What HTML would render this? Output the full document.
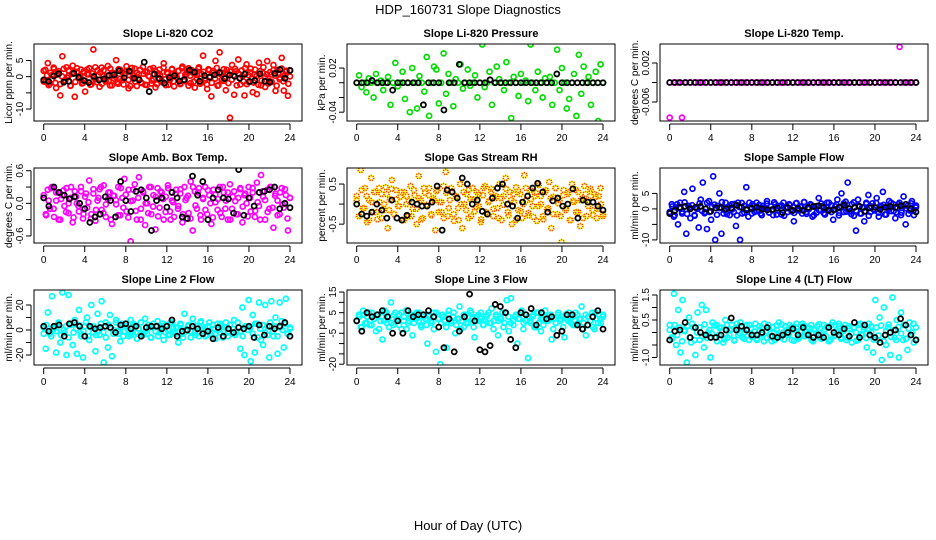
<!DOCTYPE html>
<html><head><meta charset="utf-8">
<style>
html,body{margin:0;padding:0;background:#fff;}
svg{display:block;font-family:"Liberation Sans",sans-serif;}
</style></head>
<body>
<svg id="chart" width="936" height="540" viewBox="0 0 936 540" xmlns="http://www.w3.org/2000/svg">
<rect width="936" height="540" fill="#fff"/>
<text x="468" y="14" text-anchor="middle" font-size="13">HDP_160731  Slope Diagnostics</text>
<text x="468" y="530" text-anchor="middle" font-size="13">Hour of Day (UTC)</text>
<g id="panels"></g>
</svg>
<script>
const xTicks = [0,4,8,12,16,20,24];
const titles = ["Slope Li-820 CO2","Slope Li-820 Pressure","Slope Li-820 Temp.","Slope Amb. Box Temp.","Slope Gas Stream RH","Slope Sample Flow","Slope Line 2 Flow","Slope Line 3 Flow","Slope Line 4 (LT) Flow"];
const yLabels = ["Licor ppm per min.","kPa per min.","degrees C per min.","degrees C per min.","percent per min.","ml/min per min.","ml/min per min.","ml/min per min.","ml/min per min."];
const yLims = [[-13.7,10.1],[-0.052,0.0527],[-0.0099,0.0059],[-0.73,0.65],[-0.97,0.9],[-11,13.2],[-28,32],[-20.4,16],[-1.3,1.7]];
const yTickVals = [[-10,-5,0,5],[-0.04,-0.02,0,0.02],[-0.006,-0.002,0.002],[-0.6,-0.3,0,0.3,0.6],[-0.5,0,0.5],[-10,-5,0,5],[-20,-10,0,10,20],[-20,-15,-10,-5,0,5,10,15],[-1,-0.5,0,0.5,1,1.5]];
const yTickLabels = [["-10","","0","5"],["-0.04","","","0.02"],["-0.006","","0.002"],["-0.6","","0.0","","0.6"],["-0.5","","0.5"],["-10","","0","5"],["-20","","0","","20"],["-20","","","-5","","5","","15"],["-1.0","","","0.5","","1.5"]];
const colors = ["#ff0000","#00dd00","#ff00ff","#ff00ff","rh","#0000ff","#00ffff","#00ffff","#00ffff"];

const s1 = [1.8,-1.6,4.2,-2.2,0.5,2.4,-3.5,1.1,-5.8,6.3,-1.2,2.9,0.3,-2.8,3.4,-6.2,1.5,-0.4,2.2,-1.9,-4.6,0.8,2.6,-2.4,8.4,-0.8,1.9,-3.1,2.8,0.2,-1.5,3.3,-2.7,1.2,-0.6,5.1,-2.2,2.1,-1.1,0.9,3.2,-3.6,1.6,-0.3,2.5,-2.9,0.7,-1.8,3.0,-2.5,1.4,0.1,-2.1,2.7,-3.3,0.6,2.2,-1.2,4.1,-2.6,1.0,-0.9,2.4,-3.0,0.4,1.8,-2.3,3.1,-1.4,0.8,2.6,-2.0,1.3,-3.4,0.5,2.9,-1.7,6.5,-0.5,-3.8,2.0,-6.1,1.2,4.9,-2.8,7.5,-1.0,2.3,-4.2,0.9,-12.7,3.6,-5.6,1.7,5.3,-2.4,0.2,-5.8,3.8,-1.6,2.5,-4.8,0.6,-5.4,4.3,-2.7,1.1,-3.2,4.8,-1.3,0.7,3.6,-4.4,2.1,-0.8,5.8,-4.3,1.5,-5.9,2.0];
const c1 = [-1.5,2.1,0.4,-2.6,1.2,-0.8,2.8,-1.9,0.6,1.7,-2.3,0.1,2.4,-1.1,-0.3,1.9,-2.8,0.9,1.4,-1.6,2.6,-0.5,0.2,-2.1,1.6,-1.3,2.2,0.7,-2.5,1.0,-0.2,2.9,-1.7,0.5,1.3,-2.2,2.0,-0.9,0.3,-1.4,2.5,-2.7,1.1,0.0,-1.8,2.3,-0.6,1.5,-2.4,0.8,1.8,-1.0,-2.9,2.7,0.4,-1.5,1.2,-0.4,2.1,-2.0,0.9,1.6,-2.6,0.2,2.4,-1.2,-0.7,1.9,-2.3,1.0,0.5,-1.7,2.8,-0.8,1.3,-2.5,0.1,2.2,-1.4,0.7,-0.3,1.7,-2.1,2.6,-1.0,0.6,1.4,-2.8,0.3,2.0,-1.6,1.1,-0.5,2.5,-2.2,0.8,1.5,-1.1,-2.4,2.3,0.0,-1.9,1.8,-0.6,2.7,-2.6,0.9,1.2,-1.3,-0.2,2.1,-2.0,1.6,-0.9,0.4,2.4,-2.7,1.0,-0.4,1.9,-1.5,2.6,-2.3,0.5,1.3,-0.7,-1.8,2.2,0.2,-2.5,1.7,-1.2,2.9,-0.1,0.7,-2.1,1.4,-1.6,2.0,0.3,-2.8,1.1,-0.3,2.5,-1.4,0.6,1.8,-2.2,0.1];
const b1 = [-1.0,-1.5,0.2,0.9,-1.7,-1.4,1.0,-0.2,-1.2,-1.8,0.1,-1.0,-0.7,0.4,0.6,1.8,-0.3,1.7,-0.5,-1.0,4.5,-4.6,0.8,-0.6,-2.0,-0.3,0.3,-1.4,-0.9,2.0,1.4,-1.4,0.3,-0.2,0.6,1.3,-0.6,0.5,0.1,-0.5,0.8,-1.5,-1.2,0.9,-1.4,-1.7,1.0,2.2,-0.5,1.9];
const s2 = [0,0.01,-0.006,0,-0.013,0.006,0,-0.02,0.012,0,0.003,-0.01,0,0.008,-0.03,0,0.027,-0.005,0,0.015,-0.022,0,-0.04,0.02,0,-0.035,0.009,0,-0.012,0.035,-0.045,0,0.022,0.018,-0.028,0,0.04,-0.015,0.012,0,-0.032,0.005,0,0.025,-0.008,0,0.018,-0.004,0,0.01,-0.02,0,0.052,-0.006,0,0.015,-0.03,0,0.022,0.005,0,-0.01,0.028,0,-0.048,0.008,0,-0.018,0.012,0,0.003,-0.025,0.052,0,-0.01,0.015,0,-0.02,0.006,0,0.008,-0.03,0,0.045,-0.01,0.02,0,-0.035,-0.022,0,0.012,-0.045,0.038,-0.015,0.022,0,0.008,-0.03,0,0.015,-0.052,0.025,0];
const c2 = [];
const b2 = [0,0,0,0.003,0,0,0,-0.01,0,0,0,0,0,-0.03,0,0,0,-0.037,0,0,0.025,0,0,0,0,0,0.004,0,0,0,0,0,0,0,0,0,0,0,0,0.012,0,0,0,0,0,0,0,0,0];
const s3 = [-0.0092,-0.002,-0.002,-0.0092,-0.002,-0.002,-0.002,-0.002,-0.002,-0.002,-0.002,-0.002,-0.002,-0.002,-0.002,-0.002,-0.002,-0.002,-0.002,-0.002,-0.002,-0.002,-0.002,-0.002,-0.002,-0.002,-0.002,-0.002,-0.002,-0.002,-0.002,-0.002,-0.002,-0.002,-0.002,-0.002,-0.002,-0.002,-0.002,-0.002,-0.002,-0.002,-0.002,-0.002,-0.002,-0.002,-0.002,-0.002,-0.002,-0.002,-0.002,-0.002,-0.002,-0.002,-0.002,-0.002,0.0053,-0.002,-0.002,-0.002,-0.002];
const c3 = [];
const b3 = [-0.002,-0.002,-0.002,-0.002,-0.002,-0.002,-0.002,-0.002,-0.002,-0.002,-0.002,-0.002,-0.002,-0.002,-0.002,-0.002,-0.002,-0.002,-0.002,-0.002,-0.002,-0.002,-0.002,-0.002,-0.002,-0.002,-0.002,-0.002,-0.002,-0.002,-0.002,-0.002,-0.002,-0.002,-0.002,-0.002,-0.002,-0.002,-0.002,-0.002,-0.002,-0.002,-0.002,-0.002,-0.002,-0.002,-0.002,-0.002,-0.002];
const s4 = [0.1,-0.2,0.25,-0.1,0.3,-0.25,0.05,0.2,-0.3,0.15,-0.05,0.28,-0.18,0.1,-0.35,0.22,0.0,-0.15,0.3,-0.28,0.12,-0.08,0.42,-0.2,0.18,-0.32,0.05,0.26,-0.12,0.33,-0.25,0.08,0.2,-0.38,0.14,-0.02,0.3,-0.22,0.1,0.45,-0.15,0.25,-0.7,0.05,0.35,-0.3,0.48,-0.1,0.22,-0.4,0.0,0.3,-0.2,0.15,-0.48,0.28,-0.08,0.2,-0.3,0.12,0.33,-0.15,0.05,-0.25,0.25,-0.05,0.18,-0.35,0.3,0.1,-0.18,0.4,-0.5,0.22,-0.1,0.28,-0.3,0.08,0.3,-0.2,0.15,-0.38,0.25,0.02,-0.12,0.3,-0.25,0.2,0.05,-0.3,0.35,-0.1,0.22,-0.2,0.1,0.28,-0.35,0.15,0.0,0.3,-0.15,0.2,-0.25,0.38,-0.05,0.52,0.12,-0.3,0.25,-0.1,0.3,-0.45,0.18,0.05,-0.2,0.28,-0.08,0.15,-0.5,0.1];
const c4 = [0.15,-0.22,0.05,0.28,-0.1,0.2,-0.3,0.08,0.24,-0.16,0.0,0.3,-0.26,0.12,-0.05,0.22,-0.2,0.18,0.02,-0.28,0.26,-0.12,0.1,0.3,-0.18,-0.02,0.2,-0.3,0.14,0.06,-0.22,0.28,-0.08,0.16,-0.26,0.04,0.25,-0.14,0.1,-0.3,0.2,0.0,-0.18,0.3,-0.06,0.12,-0.24,0.22,0.08,-0.16,0.28,-0.3,0.02,0.18,-0.1,0.26,-0.2,0.06,0.14,-0.28,0.3,-0.04,0.2,-0.22,0.1,-0.12,0.24,0.0,-0.26,0.16,0.08,-0.18,0.3,-0.1,0.2,-0.3,0.12,0.04,-0.2,0.26,-0.06,0.18,-0.24,0.1,0.28,-0.14,0.02,-0.3,0.22,0.06,-0.16,0.3,-0.08,0.14,-0.22,0.2,-0.02,0.26,-0.28,0.1];
const b4 = [0.1,-0.05,0.3,0.2,0.15,0.08,0.12,0.0,-0.1,-0.35,-0.25,-0.2,0.12,0.05,-0.25,0.4,0.05,-0.15,0.22,0.25,0.1,-0.5,0.05,0.1,-0.07,0.2,0.1,-0.25,-0.28,0.5,0.15,0.4,-0.3,0.1,0.25,0.1,0.08,-0.18,0.62,-0.22,0.1,-0.05,0.2,0.22,0.25,0.3,-0.1,0.0,-0.08];
const s5 = [0.2,-0.3,0.85,-0.1,0.4,-0.45,0.1,0.65,-0.2,0.3,-0.38,0.05,0.25,-0.15,0.42,-0.6,0.12,0.6,-0.25,0.35,-0.05,0.18,-0.4,0.3,0.0,-0.3,0.45,-0.12,0.22,-0.5,0.7,0.1,-0.35,0.28,-0.05,0.4,-0.25,0.15,-0.65,0.35,0.05,-0.2,0.45,0.8,-0.3,0.1,0.32,-0.42,0.2,-0.1,0.5,-0.6,0.0,0.25,-0.35,0.12,0.4,-0.18,0.3,-0.05,-0.45,0.22,0.45,-0.25,0.08,0.38,-0.3,0.15,-0.1,0.5,-0.4,0.2,0.65,-0.2,0.3,-0.5,0.05,0.42,-0.15,0.25,-0.35,0.72,0.1,-0.28,0.35,-0.05,0.2,-0.42,0.48,0.0,-0.3,0.3,-0.12,0.55,-0.6,0.18,0.4,-0.25,0.1,-0.95,0.35,-0.1,0.25,-0.4,0.5,0.05,-0.2,0.3,-0.55,0.15,0.45,-0.3,0.1,0.38,-0.15,0.25,-0.35,0.2,0.0,-0.25];
const c5 = [0.1,-0.3,0.35,-0.1,0.2,-0.4,0.05,0.3,-0.2,0.4,-0.35,0.0,0.25,-0.15,0.38,-0.25,0.12,-0.05,0.3,-0.4,0.2,0.08,-0.3,0.35,-0.12,0.15,-0.38,0.4,-0.02,0.22,-0.28,0.1,0.32,-0.2,0.05,-0.35,0.28,-0.1,0.4,-0.25,0.18,-0.4,0.0,0.3,-0.15,0.36,-0.3,0.12,-0.08,0.25,-0.38,0.4,-0.2,0.05,0.3,-0.12,0.2,-0.35,0.15,-0.02,0.38,-0.28,0.1,0.25,-0.4,0.32,-0.18,0.0,0.4,-0.22,0.12,-0.32,0.28,-0.05,0.2,-0.38,0.35,-0.1,0.15,-0.25,0.4,0.02,-0.3,0.22,-0.15,0.3,-0.4,0.08,0.36,-0.2,0.1,-0.35,0.25,-0.05,0.32,-0.28,0.18,-0.12,0.4,-0.3];
const b5 = [0.0,-0.25,-0.3,-0.2,0.0,-0.15,-0.35,0.1,-0.35,-0.4,-0.28,0.05,0.0,-0.05,-0.05,0.05,0.45,-0.65,0.35,0.3,0.15,0.65,0.5,0.0,0.1,-0.18,-0.25,0.15,0.4,0.5,0.0,-0.05,-0.35,0.05,0.2,0.4,0.52,0.3,-0.2,0.08,0.15,-0.05,0.0,0.38,-0.35,0.1,0.05,0.05,-0.05,-0.15];
const s6 = [-1,1.5,-2.5,0.5,-5,2,-1.5,5.5,-8,1,-3,6.5,-2,0.5,-6,3,8.5,-1,-6.5,2.5,-3.5,10.5,-10,1,5,-8,-1.5,2,0.5,-2,1.5,-1,-5.5,2,-10,-1.5,1,7,-2.5,0.5,1.5,-1,2,-0.5,-1.5,1,0,2.5,-1.2,0.8,-2,1.5,-0.5,1,-1.8,2,0.3,-1,1.2,-0.7,-4,1.8,-0.3,0.8,-1.5,2.2,-1,0.5,1.5,-2.5,0.7,-1.2,3.5,-0.5,1,-1.8,2,-0.2,1.2,-3.5,0.8,3,-1.3,5,-1,2.3,8.5,-0.8,1.5,-2.2,-7,3,-1.5,0.5,-4,2,4.5,-1,1.8,-0.5,3.5,-2.5,1,5.5,-1.8,0.5,2.5,-0.7,1.5,-3,0.3,2,-1.2,4,-5,1,-0.5,2.5,-2,0.5];
const c6 = [-1.2,0.8,-2.0,1.5,0.2,-0.9,2.1,-1.6,0.5,1.2,-2.2,0.0,1.8,-0.6,-1.4,2.0,-1.0,0.7,1.4,-1.9,0.3,2.2,-0.4,-1.7,1.0,-0.2,1.6,-2.1,0.6,1.9,-1.2,0.1,2.0,-1.5,0.9,-0.7,1.3,-2.0,0.4,1.7,-1.1,-0.3,2.1,-1.8,0.8,1.1,-2.2,0.2,1.5,-0.8,-1.3,1.9,-0.5,0.6,2.2,-1.6,0.0,1.2,-2.0,0.9,-0.4,1.7,-1.4,0.5,2.0,-1.0,-0.1,1.4,-2.1,0.7,1.8,-0.9,0.3,-1.7,2.1,-0.6,1.0,-1.5,0.4,1.6,-2.2,0.8,-0.2,1.9,-1.2,0.6,1.3,-1.8,0.1,2.0,-0.7,-1.1,1.5,-2.0,0.9,0.2,-1.6,1.8,-0.5,1.1];
const b6 = [-1.5,-0.5,0.5,0.8,0,0.5,0.8,0,-0.8,0.3,0.5,0,0.3,1.2,0.5,-0.3,0.2,0.5,0,-0.3,-0.2,0.3,-1.2,0.5,-0.5,0.2,-0.5,0.5,0.8,1,0.5,-0.5,-0.3,0.5,1.2,0,0.5,0.8,-0.8,0.3,0.5,-0.2,0.5,0.8,0.5,1,1.5,0,-1];
const s7 = [2,-15,14,-3,27,1,-18,5,-10,30,-2,-20,28,4,-12,8,-19,16,-5,-22,3,10,-8,20,-2,-17,13,-4,23,-26,6,-14,12,-21,0,8,-3,-9,5,-1,3,-5,8,-2,4,-7,1,6,-4,9,-3,2,-6,5,-1,7,-2,3,-8,4,0,-4,6,-1,2,-10,5,-3,13,-1,4,-6,9,-2,3,-5,7,-1,2,-4,6,-3,1,-7,5,-2,3,-1,6,-5,4,-3,8,-2,2,-15,18,-20,3,24,-25,12,-18,5,22,-8,-12,20,3,-22,23,-5,10,-19,22,7,-14,25,-3,2];
const c7 = [-3,4,1,-5,2,-1,6,-4,0,3,-6,5,-2,1,4,-3,-1,6,-5,2,3,-4,0,5,-2,-6,4,1,-3,6,-1,2,-5,3,0,-4,5,-2,1,6,-3,-1,4,-6,2,3,-5,0,5,-2,-4,6,1,-3,2,4,-6,0,3,-1,5,-4,-2,6,1,-5,3,-1,4,-3,0,5,-6,2,-2,4,1,-4,6,-1,-5,3,0,2,-3,5,-6,1,4,-2,-4,6,-1,3,-5,2,0,5,-3,1];
const b7 = [3,-1,3,4,-5,5,6,3,-5,3,1,2,3,2,-2,4,5,1,3,-5,2,3,3,1,3,8,-5,-1,0,3,1,-3,-1,-7,2,-5,1,-2,2,1,3,-6,4,-4,3,1,3,6,-5];
const s8 = [1,4,-2,6,0,3,-1,5,2,-4,4,1,-8,6,0,3,10,-1,5,2,4,-3,1,6,0,3,-6,2,5,1,-1,4,2,-10,3,0,5,-14,2,-20,4,1,-12,6,0,3,-5,2,8,1,-2,4,0,6,2,-7,3,1,5,-1,2,4,0,7,1,3,-6,2,5,0,11,-4,12,1,3,-10,2,6,0,4,-17,1,3,-2,5,0,-4,2,6,1,3,-8,2,0,4,1,3,-7,2,5,0,3,-1,4,2,8,0,-6,3,1,5,-3,2,4,0,3];
const c8 = [1,3,-2,4,0,5,-1,2,4,-3,3,1,5,-2,0,4,2,-1,5,3,-3,1,4,0,2,5,-2,3,-1,4,1,-3,5,2,0,3,-2,4,1,5,-1,2,-3,4,0,3,5,-2,1,4,2,-1,3,5,0,-3,4,1,2,-2,5,3,0,-1,4,2,5,-3,1,3,0,4,-2,5,2,-1,3,1,4,-3,0,5,2,-2,4,1,3,-1,5,0,2,-3,4,3,1,-2,5,0,2,4];
const b8 = [1,-4,5,3,4,6,3,-5,1,-5,6,3,4,4,6,3,-2,-12,2,-14,-4,3,14,1,-13,-14,-11,9,8,5,-8,-12,5,4,7,-1,5,2,3,-6,-4,4,4,-1,-3,-1,3,6,-3];
const s9 = [0.3,-0.2,1.55,-0.5,0.9,-0.8,1.3,0.1,-1.2,0.6,-0.4,0.2,-0.9,0.8,-0.3,1.1,-0.6,0.9,0.0,-1.0,0.4,-0.2,0.3,-0.1,0.2,-0.4,0.5,-0.2,0.1,0.3,-0.3,0.2,-0.1,0.4,-0.2,0.0,0.3,-0.3,0.15,-0.1,0.35,-0.25,0.1,0.2,-0.35,0.05,0.3,-0.15,0.2,-0.3,0.1,0.4,-0.2,0.0,0.25,-0.1,0.3,-0.3,0.1,0.2,-0.25,0.05,0.35,-0.15,0.2,-0.05,0.3,-0.35,0.1,0.25,-0.2,0.0,0.3,-0.15,0.2,-0.3,0.4,-0.1,0.1,0.25,-0.25,0.05,0.3,-0.2,0.15,-0.4,0.2,0.0,-0.3,0.35,-0.1,0.2,-0.6,0.1,0.25,-0.8,1.3,-0.3,0.6,-1.1,1.0,-0.5,0.2,-0.9,1.4,-0.2,0.5,-1.0,0.8,-0.3,0.3,-0.7,0.4,0.0,-0.4,0.2];
const c9 = [0.1,-0.25,0.3,-0.1,0.2,-0.35,0.05,0.25,-0.2,0.35,-0.3,0.0,0.2,-0.15,0.32,-0.22,0.1,-0.05,0.28,-0.35,0.18,0.06,-0.28,0.3,-0.1,0.12,-0.32,0.35,-0.02,0.2,-0.25,0.08,0.3,-0.18,0.04,-0.3,0.25,-0.08,0.35,-0.22,0.15,-0.35,0.0,0.28,-0.12,0.32,-0.28,0.1,-0.06,0.22,-0.33,0.35,-0.18,0.04,0.28,-0.1,0.18,-0.3,0.12,-0.02,0.33,-0.25,0.08,0.22,-0.35,0.3,-0.15,0.0,0.35,-0.2,0.1,-0.3,0.25,-0.05,0.18,-0.33,0.3,-0.08,0.12,-0.22,0.35,0.02,-0.28,0.2,-0.12,0.28,-0.35,0.06,0.32,-0.18,0.08,-0.3,0.22,-0.04,0.3,-0.25,0.15,-0.1,0.35,-0.28];
const b9 = [-0.3,0.05,0.1,0.4,-0.2,0.2,0.0,-0.1,-0.2,-0.2,-0.1,0.1,0.58,0.1,0.25,0.1,-0.1,-0.1,0.0,0.2,-0.15,-0.2,-0.1,0.0,0.15,-0.1,0.2,-0.1,-0.2,-0.1,-0.2,0.2,0.0,-0.1,0.15,-0.15,0.4,-0.2,0.3,-0.1,-0.2,-0.4,-0.1,0.0,0.1,0.55,0.3,-0.1,-0.3];

const seriesCore = [c1,c2,c3,c4,c5,c6,c7,c8,c9];
const seriesColored = [s1,s2,s3,s4,s5,s6,s7,s8,s9];
const seriesBlack = [b1,b2,b3,b4,b5,b6,b7,b8,b9];

const NS = "http://www.w3.org/2000/svg";
const root = document.getElementById("panels");
const tops = [44,168,290], bottoms = [121,243,365];
function mk(tag, attrs, parent){ const e=document.createElementNS(NS,tag); for(const k in attrs) e.setAttribute(k,attrs[k]); parent.appendChild(e); return e; }

for(let p=0;p<9;p++){
  const row=Math.floor(p/3), col=p%3;
  const L=34+col*313, R=302+col*313, T=tops[row], B=bottoms[row];
  const xs = h => L+9.7+h*(246.3/24);
  const [y0,y1]=yLims[p];
  const ys = v => B-(v-y0)/(y1-y0)*(B-T);
  const g=mk("g",{},root);
  
  
  const t=mk("text",{x:(L+R)/2,y:T-7,"text-anchor":"middle","font-size":"11","font-weight":"bold"},g);
  t.textContent=titles[p];
  
  
  const xa=mk("g",{},g);
  
  
  mk("line",{x1:xs(0),x2:xs(24),y1:B+3,y2:B+3,stroke:"#000","stroke-width":1},xa);
  xTicks.forEach(h=>{
    mk("line",{x1:xs(h),x2:xs(h),y1:B+3,y2:B+9,stroke:"#000","stroke-width":1},xa);
    const lt=mk("text",{x:xs(h),y:B+20,"text-anchor":"middle","font-size":"10"},xa);
    lt.textContent=h;
    
    
  });
  const ya=mk("g",{},g);
  
  
  const tv=yTickVals[p];
  mk("line",{x1:L-3,x2:L-3,y1:ys(tv[0]),y2:ys(tv[tv.length-1]),stroke:"#000","stroke-width":1},ya);
  tv.forEach((v,i)=>{
    const y=ys(v);
    mk("line",{x1:L-3,x2:L-8,y1:y,y2:y,stroke:"#000","stroke-width":1},ya);
    if(yTickLabels[p][i]){
      const lt=mk("text",{x:L-11,y:y,"text-anchor":"middle","font-size":"10",transform:`rotate(-90 ${L-11} ${y})`},ya);
      lt.textContent=yTickLabels[p][i];
      
      
    }
  });
  const yl=mk("text",{x:L-22,y:(T+B)/2,"text-anchor":"middle","font-size":"10",transform:`rotate(-90 ${L-22} ${(T+B)/2})`},g);
  yl.textContent=yLabels[p];
  
  
  const cp=mk("clipPath",{id:"c"+p},g);
  mk("rect",{x:L,y:T,width:R-L,height:B-T},cp);
  const pts=mk("g",{"clip-path":`url(#c${p})`,fill:"none"},g);
  
  
  function drawColored(arr){
    arr.forEach((v,i)=>{
      const h=i*24/(arr.length-1);
      if(colors[p]==="rh"){
        const c=mk("circle",{cx:xs(h),cy:ys(v),r:2.5,stroke:"#ffff00","stroke-width":1.7},pts);
        
        
        mk("circle",{cx:xs(h),cy:ys(v),r:2.5,stroke:"#ff3300","stroke-width":1.7,"stroke-dasharray":"1 1.2"},pts);
      } else {
        const c=mk("circle",{cx:xs(h),cy:ys(v),r:2.5,stroke:colors[p],"stroke-width":1.7},pts);
        
        
      }
    });
  }
  drawColored(seriesCore[p]);
  drawColored(seriesColored[p]);
  const sb=seriesBlack[p];
  sb.forEach((v,i)=>{
    const h=i*24/(sb.length-1);
    const c=mk("circle",{cx:xs(h),cy:ys(v),r:2.5,stroke:"#000","stroke-width":1.8},pts);
    
    
  });
  const box=mk("rect",{x:L,y:T,width:R-L,height:B-T,fill:"none",stroke:"#000","stroke-width":1},g);
  
  
}
</script>
</body></html>
